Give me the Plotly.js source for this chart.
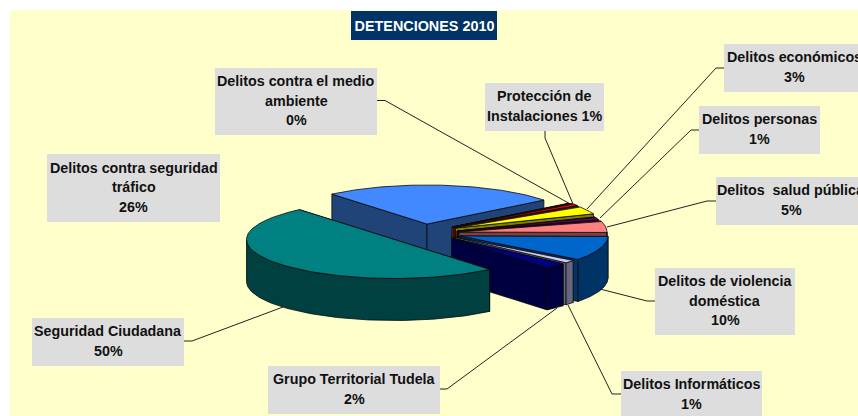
<!DOCTYPE html>
<html><head><meta charset="utf-8">
<script src="https://cdn.plot.ly/plotly-3.0.1.min.js"></script>
<style>html,body{margin:0;padding:0;background:#fff}#c{width:858px;height:416px}</style>
</head><body><div id="c"></div>
<script>
// --- data ---
const categories = ["Delitos contra seguridad tráfico","Delitos contra el medio ambiente","Protección de Instalaciones","Delitos económicos","Delitos personas","Delitos  salud pública","Delitos de violencia doméstica","Delitos Informáticos","Grupo Territorial Tudela","Seguridad Ciudadana"];
const values = [25.6,0.2,1.0,3.4,1.3,4.8,10.1,1.2,2.4,50.0];
const labelLines = [["Delitos contra seguridad","tráfico"],["Delitos contra el medio","ambiente"],["Protección de"],["Delitos económicos"],["Delitos personas"],["Delitos  salud pública"],["Delitos de violencia","doméstica"],["Delitos Informáticos"],["Grupo Territorial Tudela"],["Seguridad Ciudadana"]];
const topColors = ["#4288FF","#993300","#FF0000","#FFFF00","#660066","#FF8080","#0066CC","#CCCCFF","#000080","#008080"];
const wallColors = ["#214478","#8B2500","#800000","#808000","#330033","#804040","#003366","#666680","#000040","#004040"];
// --- geometry of the exploded 3-D pie (pixels) ---
const RX=148, RY=39, DEPTH=42, START=130;
const centerX=[427,452,454,455.5,457,459,460,455,452,394.5];
const centerY=[224,227,227,228,231,232,236,237,238,239.5];
// label boxes: left, top, right, bottom
const boxes=[[47,154,220,222],[215,68,377,135],[485,83,604,131],[724,44,864,92],[699,106,820,154],[716,177,866,225],[655,268,795,335],[621,371,762,419],[268,366,440,414],[32,318,184,366]];
const leaders=[null,[[377,100.5],[385,100.5],[572,205]],[[545,131],[545,138],[573,204]],[[724,68],[716,68],[587,209]],[[699,130],[691,130],[600,218]],[[716,201],[707,201],[607,227]],[[655,301],[647,301],[600,289]],[[621,394],[612,394],[568,305]],[[440,389],[447,389],[557,308]],[[184,341],[192,341],[283,307]]];

const total=values.reduce((a,b)=>a+b,0);
const traces=[];
function poly(xs,ys,fill,name){traces.push({type:'scatter',mode:'lines',x:xs,y:ys,fill:'toself',fillcolor:fill,line:{color:'#0a0a0a',width:0.8},hoverinfo:'skip',showlegend:false,name:name});}
let ang=START;
values.forEach((v,i)=>{
  const a0=ang, a1=ang-v/total*360; ang=a1;
  const cx=centerX[i], cy=centerY[i];
  const px=t=>cx+RX*Math.cos(t*Math.PI/180), py=t=>cy-RY*Math.sin(t*Math.PI/180);
  [a0,a1].forEach(t=>poly([cx,px(t),px(t),cx,cx],[cy,py(t),py(t)+DEPTH,cy+DEPTH,cy],wallColors[i],categories[i]));
  const fx=[],fy=[],bx=[],by=[];
  for(let k=0;k<=120;k++){const t=a0+(a1-a0)*k/120; const s=Math.sin(t*Math.PI/180);
    if(s<=0.0001){fx.push(px(t));fy.push(py(t));bx.unshift(px(t));by.unshift(py(t)+DEPTH);}}
  if(fx.length>1) poly(fx.concat(bx,[fx[0]]),fy.concat(by,[fy[0]]),wallColors[i],categories[i]);
  const tx=[cx],ty=[cy];
  for(let k=0;k<=120;k++){const t=a0+(a1-a0)*k/120;tx.push(px(t));ty.push(py(t));}
  tx.push(cx);ty.push(cy);
  poly(tx,ty,topColors[i],categories[i]);
});

const shapes=[{type:'rect',layer:'below',x0:10,x1:858,y0:10,y1:416,fillcolor:'#FFFFCC',line:{width:0}},
 {type:'rect',layer:'above',x0:351,x1:497,y0:11,y1:40,fillcolor:'#003366',line:{width:0}}];
const annotations=[];
const LH=19.5, FS=14.3;
values.forEach((v,i)=>{
  const b=boxes[i];
  shapes.push({type:'rect',layer:'below',x0:b[0],x1:b[2],y0:b[1],y1:b[3],fillcolor:'#DDDDDD',line:{width:0}});
  if(leaders[i]){const p=leaders[i];shapes.push({type:'path',layer:'below',path:'M'+p.map(q=>q[0]+','+q[1]).join('L'),line:{color:'#222',width:1}});}
  const pct=Math.round(v)+'%';
  const lines=labelLines[i].slice();
  if(i===2) lines.push('Instalaciones '+pct); else lines.push(pct);
  const top=(b[1]+b[3])/2-LH*lines.length/2-1;
  lines.forEach((t,k)=>annotations.push({xref:'x',yref:'y',x:(b[0]+b[2])/2,y:top+LH*(k+0.5),text:'<b>'+t+'</b>',showarrow:false,xanchor:'center',yanchor:'middle',font:{family:'"Liberation Sans",Arial,sans-serif',size:FS,color:'#111'}}));
});
Plotly.newPlot('c',traces,{
  width:858,height:416,margin:{l:0,r:0,t:0,b:0},paper_bgcolor:'#fff',plot_bgcolor:'#fff',showlegend:false,hovermode:false,
  title:{text:'<b>DETENCIONES 2010</b>',x:424.5/858,xanchor:'center',y:1-25.5/416,yanchor:'middle',font:{family:'"Liberation Sans",Arial,sans-serif',size:14.4,color:'#fff'}},
  xaxis:{range:[0,858],visible:false,fixedrange:true},
  yaxis:{range:[416,0],visible:false,fixedrange:true},
  shapes:shapes,annotations:annotations
},{displayModeBar:false,staticPlot:true});
</script></body></html>
